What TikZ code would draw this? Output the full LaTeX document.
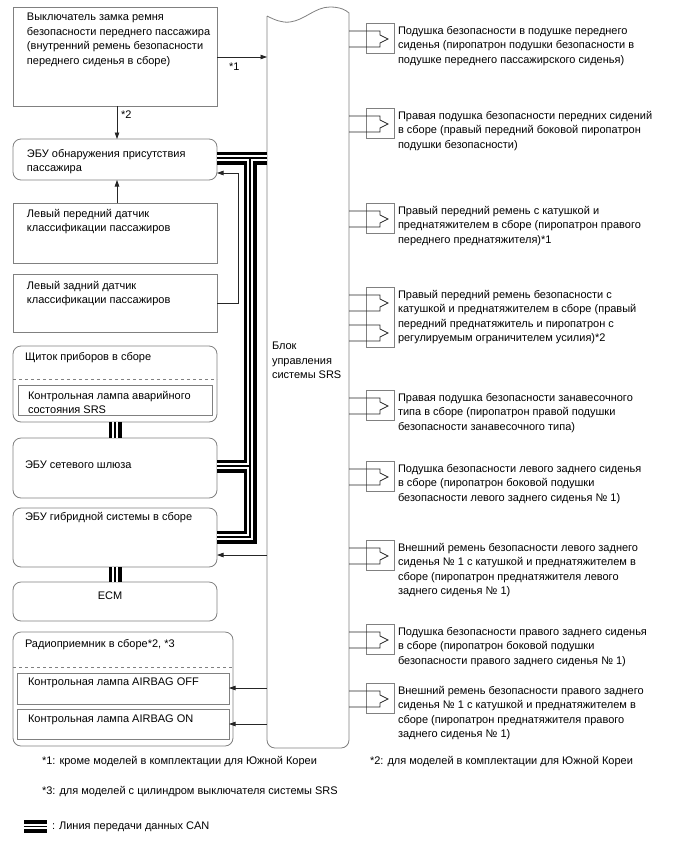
\documentclass[tikz,border=0pt]{standalone}
\usepackage{fontspec}
\setmainfont{Liberation Sans}
\usetikzlibrary{arrows.meta,calc}
\definecolor{bordergray}{HTML}{808080}
\begin{document}
\begin{tikzpicture}[x=1pt,y=-1pt,
  box/.style={draw=bordergray,line width=0.8pt,inner sep=0pt,outer sep=0pt,anchor=north west},
  rbox/.style={box,rounded corners=8pt},
  txt/.style={anchor=north west,inner sep=0pt,outer sep=0pt,align=left,font=\fontsize{11}{14.6}\selectfont},
  conn/.style={draw=black!85,line width=0.7pt},
  arr/.style={conn,-{Triangle[length=6.5pt,width=4.5pt]}},
  canA/.style={line width=13pt,draw=black},
  canB/.style={line width=5.4pt,draw=white},
  canC/.style={line width=1.1pt,draw=black},
]
\useasboundingbox (0,0) rectangle (688,852);
\fill[white] (0,0) rectangle (688,852);

% ---------- left boxes ----------
\node[box,minimum width=204pt,minimum height=99pt] (sw) at (13,7) {};
\node[rbox,minimum width=204pt,minimum height=41pt] (ocup) at (13,139) {};
\node[box,minimum width=204pt,minimum height=60pt] (lf) at (13,203) {};
\node[box,minimum width=204pt,minimum height=58pt] (lr) at (13,274) {};
\node[rbox,minimum width=204pt,minimum height=76pt] (cl) at (13,346) {};
\draw[draw=bordergray,line width=0.7pt,dashed] (cl.west |- 0,379) -- (cl.east |- 0,379);
\node[box,minimum width=194pt,minimum height=30pt] (cli) at (18,385) {};
\node[rbox,minimum width=204pt,minimum height=60pt] (gw) at (13,438) {};
\node[rbox,minimum width=204pt,minimum height=59pt] (hy) at (13,508) {};
\node[rbox,minimum width=204pt,minimum height=39pt] (ecm) at (13,582) {};
\node[rbox,minimum width=220pt,minimum height=114pt] (ra) at (13,632) {};
\draw[draw=bordergray,line width=0.7pt,dashed] (ra.west |- 0,667) -- (ra.east |- 0,667);
\node[box,minimum width=212pt,minimum height=31pt] (ri1) at (17,673) {};
\node[box,minimum width=212pt,minimum height=30pt] (ri2) at (17,709) {};

% ---------- left texts ----------
\node[txt] (tsw) at (27,13) {Выключатель замка ремня\\безопасности переднего пассажира\\(внутренний ремень безопасности\\переднего сиденья в сборе)};
\node[txt] (tocup) at (27,149) {ЭБУ обнаружения присутствия\\пассажира};
\node[txt] (tlf) at (27,209) {Левый передний датчик\\классификации пассажиров};
\node[txt] (tlr) at (27,281) {Левый задний датчик\\классификации пассажиров};
\node[txt] (tcl) at (25,352) {Щиток приборов в сборе};
\node[txt] (tcli) at (28,391) {Контрольная лампа аварийного\\состояния SRS};
\node[txt] (tgw) at (25,461) {ЭБУ сетевого шлюза};
\node[txt] (thy) at (25,512) {ЭБУ гибридной системы в сборе};
\node[txt,anchor=north] (tecm) at (110,592) {ECM};
\node[txt] (tra) at (25,639) {Радиоприемник в сборе*2, *3};
\node[txt] (tri1) at (28,678) {Контрольная лампа AIRBAG OFF};
\node[txt] (tri2) at (28,715) {Контрольная лампа AIRBAG ON};

% ---------- SRS block ----------
\node[inner sep=0pt,outer sep=0pt,minimum width=82pt,minimum height=735pt,anchor=north west] (srs) at (267,13) {};
\draw[draw=bordergray,line width=0.8pt] (267,16) .. controls (275,20) and (282,23) .. (290,22)
   .. controls (305,20) and (315,7) .. (330,7) .. controls (340,7) and (346,10) .. (349,13)
   [rounded corners=8pt] -- (349,748) -- (267,748) -- (267,16);
\node[txt] (tsrs) at (272,342) {Блок\\управления\\системы SRS};

% ---------- CAN buses ----------
\coordinate (busT) at (250,158);
\coordinate (busG) at (250,466);
\coordinate (busH) at (250,537);
\coordinate (legA) at (24,826.5);
\coordinate (legB) at (47,826.5);
\foreach \s in {canA,canB,canC} {
  \draw[\s] (ocup.east |- busT) -- (srs.west |- busT);
  \draw[\s] (busT) -- (busH) -- (hy.east |- busH);
  \draw[\s] (busG) -- (gw.east |- busG);
  \draw[\s] (cl.south) -- (gw.north);
  \draw[\s] (hy.south) -- (ecm.north);
  \draw[\s] (legA) -- (legB);
}

% ---------- thin connectors ----------
\draw[arr] (sw.east |- 0,57) -- (srs.west |- 0,57);
\node[txt] (l1) at (229,63) {*1};
\draw[arr] (sw.south -| 117,0) -- (ocup.north -| 117,0);
\node[txt] (l2) at (121,111) {*2};
\draw[arr] (lf.north -| 117,0) -- (ocup.south -| 117,0);
\draw[arr] (lr.east |- 0,303) -- (238,303) -- (238,173) -- (ocup.east |- 0,173);
\draw[arr] (srs.west |- 0,555) -- (hy.east |- 0,555);
\draw[arr] (srs.west |- 0,688) -- (ri1.east |- 0,688);
\draw[arr] (srs.west |- 0,724) -- (ri2.east |- 0,724);

% ---------- squibs ----------
\foreach \n/\yy in {1/23,2/108,3/203,5/390,6/461,7/540,8/624,9/683} {
  \node[box,minimum width=28pt,minimum height=30pt] (sq\n) at (366,\yy) {};
  \draw[conn] (srs.east |- 0,\yy+8) -- (380,\yy+8) -- (380,\yy+12) -- (388,\yy+16) -- (380,\yy+20) -- (380,\yy+24) -- (srs.east |- 0,\yy+24);
}
\node[box,minimum width=28pt,minimum height=60pt] (sq4) at (366,287) {};
\foreach \yy in {287,317} {
  \draw[conn] (srs.east |- 0,\yy+8) -- (380,\yy+8) -- (380,\yy+12) -- (388,\yy+16) -- (380,\yy+20) -- (380,\yy+24) -- (srs.east |- 0,\yy+24);
}

% ---------- right texts ----------
\node[txt] (r1) at (398,26) {Подушка безопасности в подушке переднего\\сиденья (пиропатрон подушки безопасности в\\подушке переднего пассажирского сиденья)};
\node[txt] (r2) at (398,111) {Правая подушка безопасности передних сидений\\в сборе (правый передний боковой пиропатрон\\подушки безопасности)};
\node[txt] (r3) at (398,206) {Правый передний ремень с катушкой и\\преднатяжителем в сборе (пиропатрон правого\\переднего преднатяжителя)*1};
\node[txt] (r4) at (398,290) {Правый передний ремень безопасности с\\катушкой и преднатяжителем в сборе (правый\\передний преднатяжитель и пиропатрон с\\регулируемым ограничителем усилия)*2};
\node[txt] (r5) at (398,393) {Правая подушка безопасности занавесочного\\типа в сборе (пиропатрон правой подушки\\безопасности занавесочного типа)};
\node[txt] (r6) at (398,464) {Подушка безопасности левого заднего сиденья\\в сборе (пиропатрон боковой подушки\\безопасности левого заднего сиденья № 1)};
\node[txt] (r7) at (398,543) {Внешний ремень безопасности левого заднего\\сиденья № 1 с катушкой и преднатяжителем в\\сборе (пиропатрон преднатяжителя левого\\заднего сиденья № 1)};
\node[txt] (r8) at (398,627) {Подушка безопасности правого заднего сиденья\\в сборе (пиропатрон боковой подушки\\безопасности правого заднего сиденья № 1)};
\node[txt] (r9) at (398,686) {Внешний ремень безопасности правого заднего\\сиденья № 1 с катушкой и преднатяжителем в\\сборе (пиропатрон преднатяжителя правого\\заднего сиденья № 1)};

% ---------- notes ----------
\node[txt] (n1) at (42,756) {*1: кроме моделей в комплектации для Южной Кореи};
\node[txt] (n2) at (370,756) {*2: для моделей в комплектации для Южной Кореи};
\node[txt] (n3) at (42,786) {*3: для моделей с цилиндром выключателя системы SRS};
\node[txt] (n4) at (52,822) {: Линия передачи данных CAN};
\end{tikzpicture}
\end{document}
